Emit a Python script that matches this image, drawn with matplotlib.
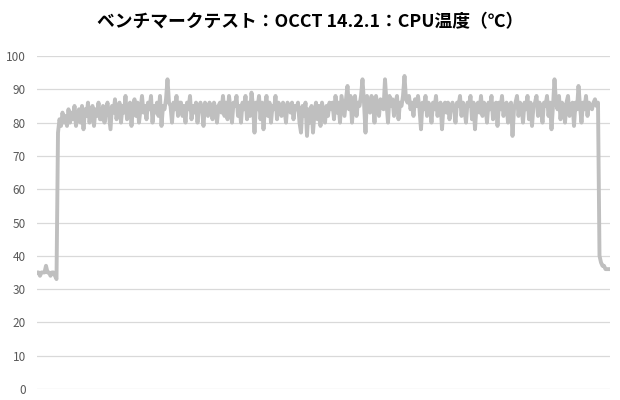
import matplotlib.pyplot as plt

plt.rcParams['font.family'] = ['Noto Sans CJK JP', 'DejaVu Sans']

title = 'ベンチマークテスト：OCCT 14.2.1：CPU温度（℃）'
yticks = [0, 10, 20, 30, 40, 50, 60, 70, 80, 90, 100]

# idle before the test
idle_start = [35, 35, 34, 35, 35, 35, 37, 35, 35, 34, 35, 35, 34, 33]
# ramp up
warmup = [77, 81, 79, 83, 80, 82, 79, 84, 80, 83, 81, 85, 79, 82, 84, 80, 85, 78, 84, 82,
          86, 80, 83, 85, 79, 84, 82, 86, 81]
load_1 = [81, 85, 80, 84, 86, 82, 78, 85, 83, 87, 81, 84, 86, 80, 85, 83, 88, 81, 84, 86,
          79, 85, 87, 82, 86, 80, 84, 88, 83, 85, 81, 86, 84, 88, 80, 85, 83, 86, 82, 88,
          79, 85, 84, 87, 93, 86, 85, 80, 86, 84, 88, 82, 86]
load_2 = [86, 82, 85, 80, 86, 84, 88, 81, 85, 83, 86, 80, 85, 86, 84, 79, 86, 85, 82, 86,
          85, 81, 86, 84, 80, 85, 86, 83, 88, 82, 86, 81, 88, 84, 80, 86, 85, 88, 82, 85,
          80, 86, 84, 88, 81, 86, 82, 89, 85, 77, 86, 84, 88, 81, 86, 78, 85, 88, 82, 86,
          80, 85, 84, 88, 81, 86, 85, 82, 86, 84, 80, 86, 85, 83, 86, 81, 85, 84, 86, 80,
          77, 85, 82, 86, 76, 84, 80, 85, 77, 83, 86, 81, 85, 79, 86, 83, 80, 85, 82, 86]
load_3 = [84, 86, 81, 88, 83, 86, 80, 88, 85, 82, 87, 91, 84, 88, 80, 86, 88, 82, 86, 85,
          88, 93, 86, 77, 88, 85, 83, 88, 86, 80, 88, 85, 82, 87, 86, 84, 93, 86, 80, 88,
          85, 87, 82, 86, 88, 81, 86, 85, 88, 94, 87, 86, 88, 84, 86, 82, 87, 85, 88, 84]
load_4 = [78, 86, 84, 88, 82, 86, 85, 80, 86, 84, 88, 82, 85, 86, 78, 85, 86, 83, 86, 81,
          85, 86, 84, 80, 86, 85, 88, 82, 86, 84, 80, 86, 85, 88, 81, 86, 78, 85, 86, 83,
          88, 82, 86, 85, 80, 86, 84, 88, 81, 85, 86, 79, 86, 84, 88, 82, 85, 86, 80, 85,
          86, 76, 84, 86, 88, 82, 86, 85, 80, 86, 84, 88, 81, 86, 79, 85, 86, 88, 82, 86,
          84, 80, 86, 85, 88, 82, 86, 78, 85, 93, 86, 84, 88, 81, 86, 85, 80, 86, 88, 82,
          85, 86, 79, 86, 84, 91, 85, 80, 86, 84, 88, 82, 86, 85, 84, 86, 87, 85, 86]
# cool down after the test
cooldown = [40, 38, 37, 37, 36, 36, 36]

temps = idle_start + warmup + load_1 + load_2 + load_3 + load_4 + cooldown

fig = plt.figure(figsize=(6.2, 4.0), dpi=100)
ax = fig.add_axes([37 / 620, 11 / 400, 573 / 620, 333 / 400])

ax.plot(range(len(temps)), temps, color='#bfbfbf', linewidth=2.8,
        solid_joinstyle='round', zorder=3)

ax.set_ylim(0, 100)
ax.set_xlim(0, len(temps))
ax.set_yticks(yticks)
ax.set_xticks([])
ax.grid(axis='y', color='#d9d9d9', linewidth=0.9)
ax.tick_params(axis='y', length=0, labelsize=8.5, labelcolor='#595959', pad=8)
for s in ax.spines.values():
    s.set_visible(False)

fig.text(0.5, 0.945, title, ha='center', va='center', fontsize=12.8,
         fontweight='bold', color='#000000')

fig.savefig('out.png', dpi=100, facecolor='white')
